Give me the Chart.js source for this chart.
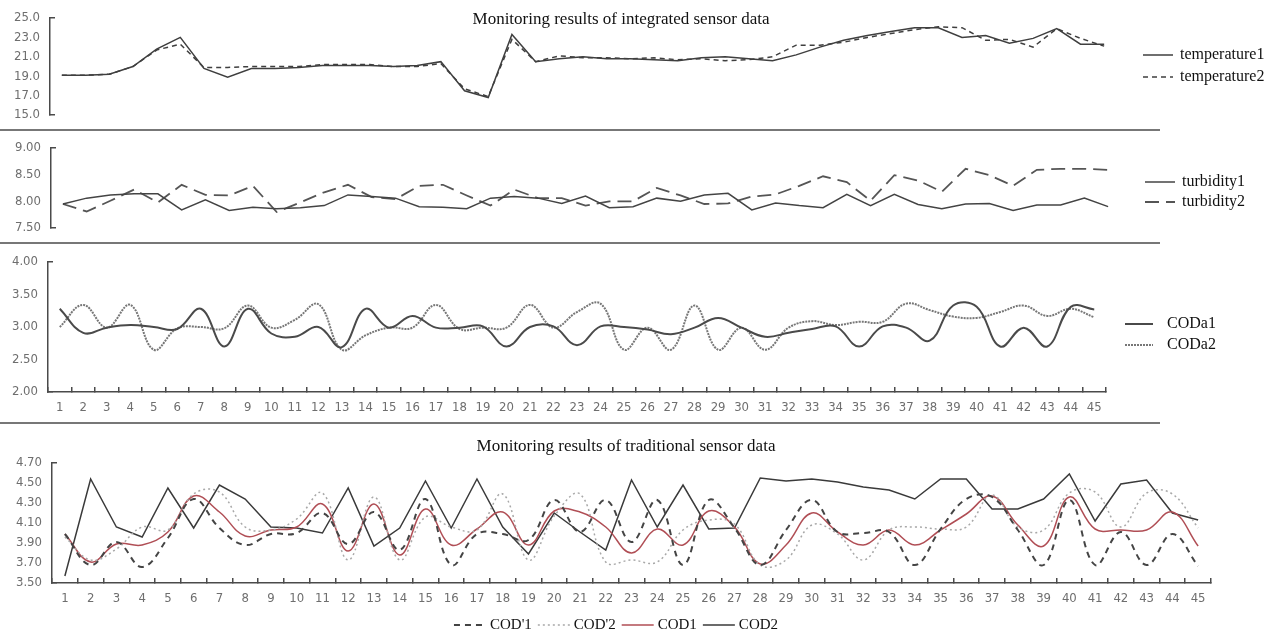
<!DOCTYPE html>
<html lang="en">
<head>
<meta charset="UTF-8">
<title>Monitoring results of sensor data</title>
<script src="https://cdn.jsdelivr.net/npm/chart.js"></script>
<style>
  body { margin: 0; background: #fff; }
  #page { position: relative; width: 1282px; height: 635px; overflow: hidden; background: #fff; }
  canvas { position: absolute; left: 0; }
  .titulo {
    position: absolute; transform: translateX(-50%);
    font-family: 'Liberation Serif', 'Times New Roman', serif;
    font-size: 17px; line-height: 17px; color: #111; white-space: nowrap;
  }
  .sep { position: absolute; left: 0; width: 1160px; height: 2px; background: #777; }
</style>
</head>
<body>
<div id="page">
  <canvas id="gTemp" width="1282" height="130" style="top:0"></canvas>
  <canvas id="gTurb" width="1282" height="113" style="top:130px"></canvas>
  <canvas id="gCODa" width="1282" height="180" style="top:243px"></canvas>
  <canvas id="gCOD" width="1282" height="212" style="top:423px"></canvas>
  <div class="titulo" style="left:621px; top:10px">Monitoring results of integrated sensor data</div>
  <div class="titulo" style="left:626px; top:437px">Monitoring results of traditional sensor data</div>
  <div class="sep" style="top:129px"></div>
  <div class="sep" style="top:242px"></div>
  <div class="sep" style="top:422px"></div>
</div>

<script>
  const days = [1, 2, 3, 4, 5, 6, 7, 8, 9, 10, 11, 12, 13, 14, 15, 16, 17, 18, 19, 20, 21, 22, 23,
    24, 25, 26, 27, 28, 29, 30, 31, 32, 33, 34, 35, 36, 37, 38, 39, 40, 41, 42, 43, 44, 45];

  // integrated sensor data
  const temperature1 = [19.1, 19.1, 19.2, 20.0, 21.8, 23.0, 19.8, 18.9, 19.8, 19.8, 19.9, 20.1, 20.1, 20.1, 20.0, 20.1, 20.5, 17.5, 16.8, 23.3, 20.5, 20.8, 21.0,
    20.8, 20.8, 20.7, 20.6, 20.9, 21.0, 20.8, 20.6, 21.2, 22.0, 22.7, 23.2, 23.6, 24.0, 24.0, 23.0, 23.2, 22.4, 22.9, 23.9, 22.3, 22.3];
  const temperature2 = [19.1, 19.1, 19.2, 20.0, 21.7, 22.3, 19.9, 19.9, 20.0, 20.0, 20.0, 20.2, 20.2, 20.2, 20.0, 20.0, 20.3, 17.7, 16.9, 22.8, 20.5, 21.1, 20.9,
    20.9, 20.8, 20.9, 20.7, 20.8, 20.6, 20.7, 21.0, 22.2, 22.2, 22.5, 23.0, 23.4, 23.8, 24.1, 24.0, 22.7, 22.8, 22.0, 23.9, 22.9, 22.1];

  const turbidity1 = [7.95, 8.06, 8.12, 8.14, 8.14, 7.84, 8.03, 7.83, 7.89, 7.86, 7.88, 7.92, 8.12, 8.09, 8.06, 7.90, 7.89, 7.86, 8.06, 8.09, 8.06, 7.96, 8.10,
    7.88, 7.90, 8.06, 8.00, 8.12, 8.15, 7.84, 7.97, 7.92, 7.88, 8.13, 7.92, 8.13, 7.94, 7.86, 7.95, 7.96, 7.83, 7.93, 7.93, 8.06, 7.90];
  const turbidity2 = [7.95, 7.81, 8.01, 8.22, 7.98, 8.31, 8.12, 8.11, 8.29, 7.80, 7.98, 8.17, 8.31, 8.08, 8.04, 8.29, 8.31, 8.11, 7.92, 8.22, 8.06, 8.06, 7.92,
    8.00, 8.00, 8.25, 8.11, 7.95, 7.96, 8.09, 8.13, 8.29, 8.47, 8.36, 8.01, 8.49, 8.39, 8.18, 8.61, 8.49, 8.29, 8.59, 8.61, 8.61, 8.59];

  const CODa1 = [3.28, 2.91, 2.99, 3.03, 3.00, 2.97, 3.28, 2.70, 3.28, 2.90, 2.85, 3.00, 2.69, 3.28, 2.99, 3.17, 2.99, 2.99, 3.01, 2.70, 3.00, 3.01, 2.72,
    3.01, 3.00, 2.96, 2.89, 2.99, 3.14, 2.99, 2.85, 2.91, 2.97, 3.01, 2.70, 3.01, 2.99, 2.79, 3.33, 3.31, 2.70, 2.99, 2.70, 3.31, 3.27];
  const CODa2 = [3.00, 3.34, 2.99, 3.34, 2.65, 2.98, 3.00, 2.98, 3.33, 2.99, 3.11, 3.35, 2.65, 2.87, 2.99, 2.99, 3.34, 2.97, 2.99, 2.99, 3.34, 2.99, 3.23,
    3.36, 2.65, 2.99, 2.65, 3.33, 2.65, 2.99, 2.65, 2.99, 3.09, 3.03, 3.08, 3.08, 3.36, 3.26, 3.16, 3.14, 3.23, 3.33, 3.17, 3.28, 3.15];

  // traditional sensor data
  const CODp1 = [3.99, 3.68, 3.91, 3.66, 3.95, 4.34, 4.05, 3.88, 3.99, 4.00, 4.20, 3.89, 4.21, 3.83,
    4.34, 3.68, 3.99, 3.99, 3.93, 4.33, 4.01, 4.33, 3.91, 4.33, 3.68, 4.33, 4.05, 3.68, 4.03, 4.33,
    4.01, 4.00, 4.01, 3.68, 4.04, 4.34, 4.36, 4.03, 3.68, 4.33, 3.68, 4.01, 3.68, 3.99, 3.67];
  const CODp2 = [3.96, 3.73, 3.84, 4.06, 4.03, 4.39, 4.41, 4.06, 4.03, 4.14, 4.40, 3.73, 4.36, 3.73,
    4.16, 4.06, 4.03, 4.39, 3.73, 4.17, 4.39, 3.71, 3.73, 3.71, 4.03, 4.13, 4.09, 3.68, 3.73, 4.08,
    3.99, 3.73, 4.03, 4.06, 4.04, 4.06, 4.38, 4.06, 4.03, 4.40, 4.41, 4.06, 4.40, 4.39, 4.05];
  const COD1 = [3.99, 3.71, 3.89, 3.88, 4.01, 4.37, 4.21, 3.97, 4.03, 4.06, 4.29, 3.82, 4.29, 3.78,
    4.24, 3.88, 4.04, 4.21, 3.88, 4.22, 4.21, 4.06, 3.80, 4.04, 3.88, 4.22, 4.06, 3.69, 3.88, 4.20,
    4.01, 3.88, 4.03, 3.88, 4.03, 4.19, 4.37, 4.08, 3.87, 4.36, 4.04, 4.03, 4.03, 4.21, 3.87];
  const COD2 = [3.57, 4.54, 4.06, 3.96, 4.45, 4.05, 4.48, 4.34, 4.06, 4.05, 4.00, 4.45, 3.87, 4.05,
    4.52, 4.05, 4.54, 4.06, 3.79, 4.20, 4.01, 3.83, 4.53, 4.06, 4.48, 4.04, 4.05, 4.55, 4.52, 4.54,
    4.51, 4.46, 4.43, 4.34, 4.54, 4.54, 4.24, 4.24, 4.34, 4.59, 4.12, 4.49, 4.53, 4.20, 4.13];

  const fonteEixo = { family: "'DejaVu Sans Condensed', 'Liberation Sans Narrow', 'DejaVu Sans', sans-serif", size: 13 };
  const corEixo = '#4a4a4a';
  const corTexto = '#6e6e6e';

  // legend: a line sample and the label, for every dataset
  const legendaLinhas = {
    id: 'legendaLinhas',
    afterDraw(chart, args, o) {
      if (!o || !o.font) return;
      const ctx = chart.ctx;
      const sets = chart.data.datasets;
      ctx.save();
      ctx.font = o.font;
      ctx.textBaseline = 'middle';
      let pos;
      if (o.row) {
        const larg = sets.map(d => o.sample + o.gap + ctx.measureText(d.label).width);
        const total = larg.reduce((a, b) => a + b, 0) + o.spacing * (sets.length - 1);
        let x = o.center - total / 2;
        pos = larg.map(w => { const p = { x: x, y: o.y }; x += w + o.spacing; return p; });
      } else {
        pos = sets.map((d, i) => ({ x: o.x, y: o.y + i * o.step }));
      }
      sets.forEach((d, i) => {
        const p = pos[i];
        ctx.beginPath();
        ctx.strokeStyle = d.borderColor;
        ctx.lineWidth = d.borderWidth;
        ctx.setLineDash(d.borderDash || []);
        ctx.moveTo(p.x, p.y);
        ctx.lineTo(p.x + o.sample, p.y);
        ctx.stroke();
        ctx.setLineDash([]);
        ctx.fillStyle = '#111';
        ctx.fillText(d.label, p.x + o.sample + o.gap, p.y);
      });
      ctx.restore();
    }
  };

  function escalaY(min, max, passo, casas, largura) {
    return {
      min: min, max: max,
      // fixed width, and no extra room asked for the end labels
      afterFit: s => { s.width = largura; s.paddingTop = 0; s.paddingBottom = 0; },
      ticks: { stepSize: passo, padding: 15, color: corTexto, font: fonteEixo, callback: v => Number(v).toFixed(casas) },
      grid: {
        drawOnChartArea: false, tickLength: -5, lineWidth: 1.5,
        tickColor: c => (c.index === 0 || c.index === c.scale.ticks.length - 1) ? corEixo : 'rgba(0,0,0,0)'
      },
      border: { color: corEixo, width: 1.5 }
    };
  }

  function escalaX(altura) {
    if (!altura) return { type: 'category', offset: true, display: false };
    return {
      type: 'category', offset: true,
      afterFit: s => { s.height = altura; },
      ticks: { autoSkip: false, maxRotation: 0, padding: 13, color: corTexto, font: fonteEixo },
      grid: { offset: true, drawOnChartArea: false, tickLength: -5, lineWidth: 1.5, tickColor: corEixo },
      border: { color: corEixo, width: 1.5 }
    };
  }

  function gerarGrafico(id, datasets, cfg) {
    return new Chart(document.getElementById(id), {
      type: 'line',
      data: { labels: days, datasets: datasets },
      options: {
        responsive: false,
        animation: false,
        events: [],
        layout: { padding: cfg.padding },
        elements: { point: { radius: 0 }, line: { fill: false } },
        plugins: {
          legend: { display: false },
          tooltip: { enabled: false },
          legendaLinhas: cfg.legenda
        },
        scales: { x: escalaX(cfg.xAltura), y: cfg.y }
      },
      plugins: [legendaLinhas]
    });
  }

  const serifLegenda = "16px 'Liberation Serif', 'Times New Roman', serif";

  gerarGrafico('gTemp', [
    { label: 'temperature1', data: temperature1, borderColor: '#3f3f3f', borderWidth: 1.5, tension: 0 },
    { label: 'temperature2', data: temperature2, borderColor: '#3f3f3f', borderWidth: 1.5, borderDash: [5, 4], tension: 0 }
  ], {
    padding: { left: 0, top: 18, right: 166, bottom: 15 },
    y: escalaY(15, 25, 2, 1, 50),
    legenda: { font: serifLegenda, x: 1143, y: 55, step: 22, sample: 30, gap: 7 }
  });

  gerarGrafico('gTurb', [
    { label: 'turbidity1', data: turbidity1, borderColor: '#444', borderWidth: 1.5, tension: 0 },
    { label: 'turbidity2', data: turbidity2, borderColor: '#555', borderWidth: 1.8, borderDash: [14, 7], tension: 0 }
  ], {
    padding: { left: 0, top: 18, right: 162, bottom: 15 },
    y: escalaY(7.5, 9, 0.5, 2, 51),
    legenda: { font: serifLegenda, x: 1145, y: 52, step: 20, sample: 30, gap: 7 }
  });

  gerarGrafico('gCODa', [
    { label: 'CODa1', data: CODa1, borderColor: '#4a4a4a', borderWidth: 2, tension: 0.4 },
    { label: 'CODa2', data: CODa2, borderColor: '#777', borderWidth: 2, borderDash: [2, 1], tension: 0.4 }
  ], {
    padding: { left: 0, top: 19, right: 176, bottom: 0 },
    xAltura: 31,
    y: escalaY(2, 4, 0.5, 2, 48),
    legenda: { font: serifLegenda, x: 1125, y: 81, step: 21, sample: 28, gap: 14 }
  });

  gerarGrafico('gCOD', [
    { label: "COD'1", data: CODp1, borderColor: '#444', borderWidth: 2, borderDash: [6, 5], tension: 0.4 },
    { label: "COD'2", data: CODp2, borderColor: '#a8a8a8', borderWidth: 1.5, borderDash: [2, 3], tension: 0.4 },
    { label: 'COD1', data: COD1, borderColor: '#b04e55', borderWidth: 1.5, tension: 0.4 },
    { label: 'COD2', data: COD2, borderColor: '#3a3a3a', borderWidth: 1.5, tension: 0 }
  ], {
    padding: { left: 0, top: 40, right: 71, bottom: 22 },
    xAltura: 30,
    y: escalaY(3.5, 4.7, 0.2, 2, 52),
    legenda: { font: "15px 'Liberation Serif', 'Times New Roman', serif", row: true, center: 616, y: 202, sample: 32, gap: 4, spacing: 6 }
  });
</script>
</body>
</html>
